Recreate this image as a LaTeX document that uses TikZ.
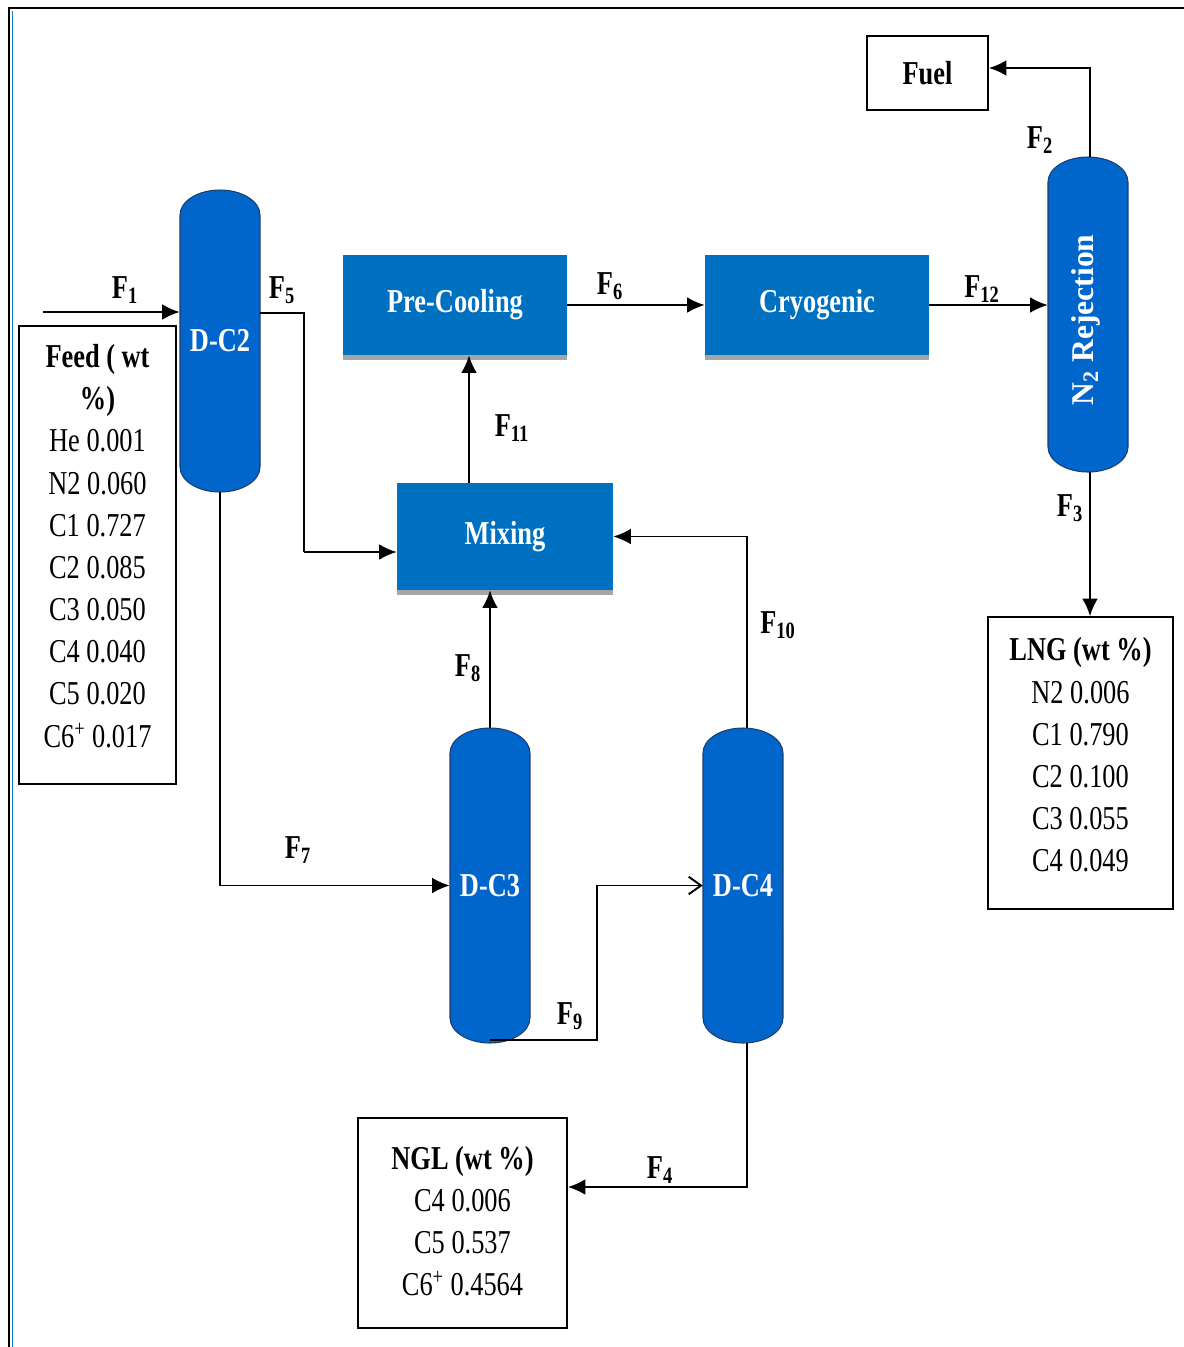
\documentclass[tikz,border=0pt]{standalone}
\usepackage{fontspec}
\setmainfont{Liberation Serif}[FakeStretch=0.79]
\newfontfamily\uprightserif{Liberation Serif}
\usetikzlibrary{arrows.meta,shadows}
\definecolor{colblue}{RGB}{0,102,204}
\definecolor{boxblue}{RGB}{0,112,192}
\definecolor{coledge}{RGB}{30,60,110}
\newcommand{\flowlbl}[1]{F\textsubscript{#1}}

\begin{document}
\begin{tikzpicture}[x=0.02cm, y=-0.02cm, font=\fontsize{19}{24}\selectfont,
  unit/.style={fill=boxblue, text=white, font=\fontsize{19}{24}\selectfont\bfseries,
    inner sep=0pt, minimum width=4.48cm, minimum height=2cm,
    drop shadow={shadow xshift=0pt, shadow yshift=-3pt, fill=black!35, opacity=1}},
  colfill/.style={fill=colblue, draw=coledge, line width=0.6pt},
  column/.style={inner sep=0pt, minimum width=1.6cm, text=white,
    font=\fontsize{19}{24}\selectfont\bfseries},
  info/.style={draw, line width=1pt, inner sep=0pt, align=center},
  infotxt/.style={inner sep=0pt, align=center},
  lbl/.style={font=\fontsize{19}{24}\selectfont\bfseries, inner sep=1pt},
  flow/.style={line width=1.1pt, -{Latex[length=10pt,width=9pt]}},
  pipe/.style={line width=1.1pt}]
  \useasboundingbox (0,0) rectangle (1184,1347);
  % frame
  \draw[line width=1.4pt] (9,1347) -- (9,8) -- (1184,8);
  \draw[cyan!60!blue, line width=0.5pt] (12,11) -- (12,1347);

  % columns: body first, then the named node on top
  \draw[colfill] (180,215) arc[start angle=180, end angle=0, x radius=0.8cm, y radius=0.5cm]
    -- (260,467) arc[start angle=0, end angle=-180, x radius=0.8cm, y radius=0.5cm] -- cycle;
  \node[column, minimum height=6.04cm] (dc2) at (220,341) {D-C2};
  \draw[colfill] (1048,182) arc[start angle=180, end angle=0, x radius=0.8cm, y radius=0.5cm]
    -- (1128,447) arc[start angle=0, end angle=-180, x radius=0.8cm, y radius=0.5cm] -- cycle;
  \node[column, minimum height=6.3cm] (n2r) at (1088,314.5) {};
  \node[text=white, inner sep=0pt, rotate=90, font=\uprightserif\fontsize{18}{22}\selectfont\bfseries]
    (n2rtxt) at (1086,320) {N\textsubscript{2} Rejection};
  \draw[colfill] (450,753) arc[start angle=180, end angle=0, x radius=0.8cm, y radius=0.5cm]
    -- (530,1018) arc[start angle=0, end angle=-180, x radius=0.8cm, y radius=0.5cm] -- cycle;
  \node[column, minimum height=6.3cm] (dc3) at (490,885.5) {D-C3};
  \draw[colfill] (703,753) arc[start angle=180, end angle=0, x radius=0.8cm, y radius=0.5cm]
    -- (783,1018) arc[start angle=0, end angle=-180, x radius=0.8cm, y radius=0.5cm] -- cycle;
  \node[column, minimum height=6.3cm] (dc4) at (743,885.5) {D-C4};

  % process units
  \node[unit] (pc) at (455,305) {Pre-Cooling};
  \node[unit] (cryo) at (817,305) {Cryogenic};
  \node[unit, minimum width=4.32cm, minimum height=2.14cm] (mix) at (505,536.5) {Mixing};

  % stream boxes (frame and text apart)
  \node[info, minimum width=2.42cm, minimum height=1.48cm, font=\fontsize{19}{24}\selectfont\bfseries]
    (fuel) at (927.5,73) {Fuel};
  \node[info, minimum width=3.14cm, minimum height=9.16cm] (feed) at (97.5,555) {};
  \node[infotxt] (feedtxt) at (97.5,546)
    {\textbf{Feed ( wt}\\ \textbf{\%)}\\ He 0.001\\ N2 0.060\\ C1 0.727\\ C2 0.085\\
     C3 0.050\\ C4 0.040\\ C5 0.020\\ C6\textsuperscript{+} 0.017};
  \node[info, minimum width=3.7cm, minimum height=5.84cm] (lng) at (1080.5,763) {};
  \node[infotxt] (lngtxt) at (1080.5,755)
    {\textbf{LNG (wt \%)}\\ N2 0.006\\ C1 0.790\\ C2 0.100\\ C3 0.055\\ C4 0.049};
  \node[info, minimum width=4.18cm, minimum height=4.2cm] (ngl) at (462.5,1223) {};
  \node[infotxt] (ngltxt) at (462.5,1221)
    {\textbf{NGL (wt \%)}\\ C4 0.006\\ C5 0.537\\ C6\textsuperscript{+} 0.4564};

  % corner points of the streams
  \coordinate (f1a) at (43,312);
  \coordinate (f5a) at (304,313);
  \coordinate (f5b) at (304,552);
  \coordinate (f11x) at (469,420);
  \coordinate (f2a) at (1090,68);
  \coordinate (f9a) at (597,1040);
  \coordinate (f4a) at (747,1187);

  % streams
  \draw[flow] (f1a) -- (f1a -| dc2.west);
  \draw[pipe] (dc2.east |- f5a) -- (f5a) -- (f5b);
  \draw[flow] (f5b) -- (f5b -| mix.west);
  \draw[flow] (mix.north -| f11x) -- (pc.south -| f11x);
  \draw[flow] (pc.east) -- (cryo.west);
  \draw[flow] (cryo.east) -- (cryo.east -| n2r.west);
  \draw[flow] (n2r.north -| f2a) -- (f2a) -- (f2a -| fuel.east);
  \draw[flow] (n2r.south -| f2a) -- (f2a |- lng.north);
  \draw[flow] (dc4.north -| f4a) -- (f4a |- mix.east) -- (mix.east);
  \draw[flow] (dc3.north) -- (dc3.north |- mix.south);
  \draw[flow] (dc2.south) -- (dc2.south |- dc3.west) -- (dc3.west);
  \draw[pipe, -{Straight Barb[length=7pt,width=10pt]}] (dc3.south |- f9a) -- (f9a)
    -- (f9a |- dc4.west) -- (dc4.west);
  \draw[flow] (dc4.south -| f4a) -- (f4a) -- (f4a -| ngl.east);

  % stream labels
  \node[lbl] (l1) at (125,290) {\flowlbl{1}};
  \node[lbl] (l5) at (282,290) {\flowlbl{5}};
  \node[lbl] (l6) at (610,286) {\flowlbl{6}};
  \node[lbl] (l12) at (982,289) {\flowlbl{12}};
  \node[lbl] (l2) at (1040,140) {\flowlbl{2}};
  \node[lbl] (l3) at (1070,508) {\flowlbl{3}};
  \node[lbl] (l11) at (512,428) {\flowlbl{11}};
  \node[lbl] (l10) at (778,625) {\flowlbl{10}};
  \node[lbl] (l8) at (468,668) {\flowlbl{8}};
  \node[lbl] (l7) at (298,850) {\flowlbl{7}};
  \node[lbl] (l9) at (570,1016) {\flowlbl{9}};
  \node[lbl] (l4) at (660,1170) {\flowlbl{4}};
\end{tikzpicture}
\end{document}
